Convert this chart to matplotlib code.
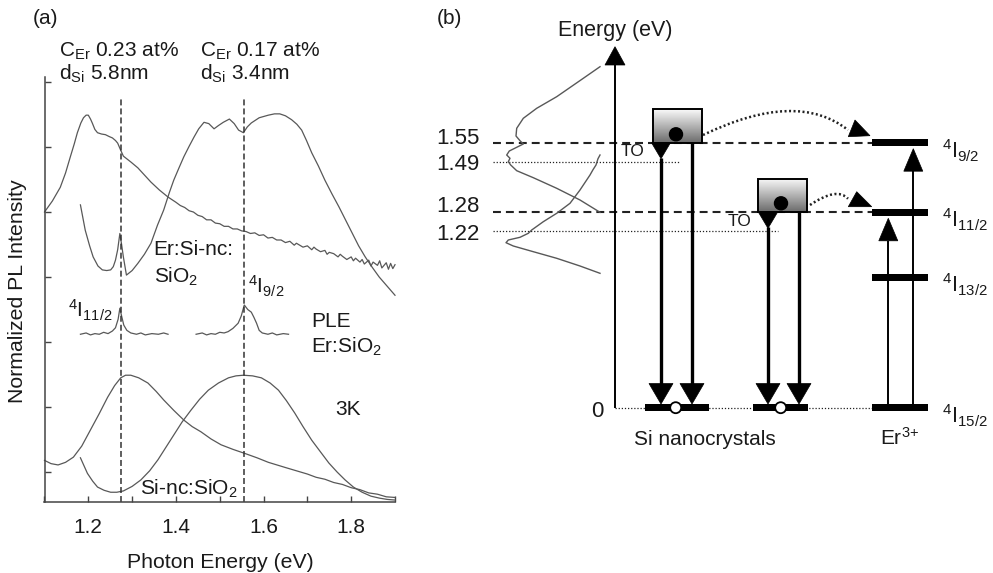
import numpy as np
import matplotlib
matplotlib.use("Agg")
import matplotlib.pyplot as plt
from matplotlib.patches import Polygon, Circle, Rectangle, PathPatch
from matplotlib.path import Path

plt.rcParams['font.family'] = ['Liberation Sans', 'DejaVu Sans']
plt.rcParams['mathtext.fontset'] = 'custom'
plt.rcParams['mathtext.rm'] = 'Liberation Sans'
plt.rcParams['mathtext.it'] = 'Liberation Sans:italic'
plt.rcParams['mathtext.bf'] = 'Liberation Sans:bold'

# ---------------------------------------------------------------- data (a)
# Er:Si-nc:SiO2, C_Er 0.23 at%, d_Si 5.8 nm (PL, 3K)
ER58_E = [1.100, 1.118, 1.136, 1.148, 1.159, 1.168, 1.175, 1.183, 1.189, 1.195,
          1.200, 1.205, 1.209, 1.215, 1.221, 1.230, 1.239, 1.248, 1.255, 1.262,
          1.267, 1.274, 1.280, 1.297, 1.313, 1.328, 1.343, 1.362, 1.382,
          1.40, 1.41, 1.42, 1.43, 1.44, 1.45, 1.46, 1.47, 1.48, 1.49, 1.50,
          1.51, 1.52, 1.53, 1.54, 1.55, 1.56, 1.57, 1.58, 1.59, 1.60, 1.61,
          1.62, 1.63, 1.64, 1.65, 1.66, 1.67, 1.675, 1.68, 1.69, 1.70, 1.71,
          1.715, 1.72, 1.73, 1.74, 1.745, 1.75, 1.76, 1.77, 1.775, 1.78, 1.79,
          1.80, 1.805, 1.81, 1.82, 1.825, 1.83, 1.84, 1.845, 1.85, 1.86, 1.865,
          1.87, 1.88, 1.885, 1.89, 1.895, 1.90]
ER58_I = [4.00, 4.17, 4.38, 4.60, 4.85, 5.05, 5.22, 5.37, 5.45, 5.49,
          5.49, 5.43, 5.37, 5.27, 5.22, 5.20, 5.19, 5.16, 5.14, 5.10,
          5.06, 4.95, 4.86, 4.77, 4.68, 4.57, 4.46, 4.34, 4.23,
          4.15, 4.10, 4.07, 4.02, 4.00, 3.95, 3.93, 3.88, 3.88, 3.83, 3.82,
          3.78, 3.78, 3.74, 3.74, 3.71, 3.70, 3.67, 3.68, 3.64, 3.65, 3.60,
          3.61, 3.57, 3.57, 3.53, 3.55, 3.49, 3.52, 3.50, 3.46, 3.48, 3.42,
          3.46, 3.43, 3.39, 3.41, 3.35, 3.38, 3.36, 3.31, 3.35, 3.32, 3.27,
          3.31, 3.25, 3.29, 3.23, 3.27, 3.20, 3.26, 3.17, 3.23, 3.18, 3.25,
          3.14, 3.22, 3.12, 3.21, 3.13, 3.19]

# Er:Si-nc:SiO2, C_Er 0.17 at%, d_Si 3.4 nm (PL, 3K)
ER34_E = [1.182, 1.193, 1.203, 1.211, 1.222, 1.232, 1.242, 1.251, 1.257, 1.262,
          1.267, 1.272, 1.276, 1.280, 1.287, 1.300, 1.313, 1.328, 1.343, 1.358,
          1.372, 1.385, 1.395, 1.407, 1.418, 1.430, 1.441, 1.452, 1.464, 1.475,
          1.487, 1.497, 1.508, 1.522, 1.533, 1.543, 1.554, 1.563, 1.572, 1.590,
          1.611, 1.625, 1.637, 1.650, 1.664, 1.676, 1.687, 1.698, 1.710, 1.725,
          1.740, 1.756, 1.772, 1.787, 1.802, 1.817, 1.832, 1.848, 1.864, 1.882,
          1.900]
ER34_I = [4.11, 3.72, 3.48, 3.31, 3.17, 3.11, 3.10, 3.11, 3.16, 3.26,
          3.42, 3.67, 3.50, 3.31, 3.03, 3.10, 3.21, 3.35, 3.52, 3.80,
          4.03, 4.30, 4.49, 4.68, 4.85, 5.01, 5.15, 5.28, 5.38, 5.36,
          5.28, 5.33, 5.38, 5.43, 5.36, 5.26, 5.22, 5.31, 5.37, 5.45,
          5.49, 5.51, 5.51, 5.48, 5.42, 5.35, 5.26, 5.10, 4.91, 4.71,
          4.49, 4.28, 4.08, 3.88, 3.68, 3.48, 3.31, 3.15, 3.00, 2.86,
          2.72]

# PLE of Er:SiO2 around the 4I11/2 and 4I9/2 absorptions
PLE1_E = [1.182, 1.195, 1.205, 1.215, 1.225, 1.235, 1.245, 1.255, 1.262, 1.268,
          1.272, 1.276, 1.281, 1.288, 1.297, 1.310, 1.320, 1.330, 1.345, 1.360,
          1.372, 1.382]
PLE1_I = [2.12, 2.14, 2.11, 2.13, 2.12, 2.15, 2.13, 2.17, 2.22, 2.35,
          2.52, 2.40, 2.26, 2.18, 2.14, 2.12, 2.14, 2.11, 2.13, 2.12,
          2.14, 2.12]
PLE2_E = [1.446, 1.460, 1.470, 1.480, 1.490, 1.500, 1.510, 1.519, 1.530, 1.542,
          1.549, 1.556, 1.564, 1.572, 1.578, 1.584, 1.590, 1.597, 1.610, 1.620,
          1.630, 1.645, 1.657]
PLE2_I = [2.12, 2.14, 2.11, 2.13, 2.12, 2.15, 2.14, 2.16, 2.21, 2.29,
          2.40, 2.57, 2.50, 2.46, 2.38, 2.29, 2.18, 2.14, 2.12, 2.14,
          2.11, 2.13, 2.12]

# Si-nc:SiO2 reference samples (PL, 3K)
SINC58_E = [1.100, 1.115, 1.131, 1.148, 1.166, 1.185, 1.205, 1.225, 1.244, 1.260,
            1.274, 1.285, 1.297, 1.315, 1.336, 1.355, 1.372, 1.395, 1.418, 1.437,
            1.457, 1.480, 1.503, 1.530, 1.556, 1.585, 1.611, 1.650, 1.680, 1.70,
            1.72, 1.74, 1.76, 1.78, 1.80, 1.82, 1.84, 1.86, 1.88, 1.90]
SINC58_I = [0.18, 0.13, 0.11, 0.15, 0.23, 0.40, 0.65, 0.90, 1.15, 1.33,
            1.45, 1.49, 1.49, 1.45, 1.37, 1.24, 1.11, 0.95, 0.80, 0.70,
            0.62, 0.51, 0.42, 0.35, 0.29, 0.22, 0.15, 0.07, 0.01, -0.03,
            -0.08, -0.11, -0.16, -0.19, -0.24, -0.27, -0.32, -0.34, -0.38, -0.39]
SINC34_E = [1.182, 1.190, 1.198, 1.210, 1.221, 1.236, 1.251, 1.265, 1.280, 1.300,
            1.320, 1.340, 1.359, 1.377, 1.395, 1.414, 1.434, 1.454, 1.474, 1.497,
            1.520, 1.537, 1.554, 1.575, 1.595, 1.615, 1.634, 1.652, 1.671, 1.690,
            1.710, 1.730, 1.749, 1.768, 1.786, 1.805, 1.825, 1.845, 1.864, 1.882,
            1.900]
SINC34_I = [0.22, 0.10, -0.02, -0.14, -0.23, -0.28, -0.31, -0.31, -0.29, -0.22,
            -0.12, 0.02, 0.19, 0.38, 0.57, 0.77, 0.95, 1.12, 1.26, 1.37,
            1.45, 1.48, 1.49, 1.48, 1.45, 1.37, 1.26, 1.10, 0.91, 0.70,
            0.49, 0.31, 0.14, 0.00, -0.12, -0.23, -0.31, -0.37, -0.40, -0.42,
            -0.43]

# Er3+ transition energies marked by the dashed lines (eV)
ER_TRANSITIONS = [1.275, 1.555]

XTICKS = [1.1, 1.2, 1.3, 1.4, 1.5, 1.6, 1.7, 1.8, 1.9]
XTICK_LABELS = ['', '1.2', '', '1.4', '', '1.6', '', '1.8', '']
YTICKS = [0, 1, 2, 3, 4, 5, 6]

# ---------------------------------------------------------------- data (b)
# schematic heights of the levels in the energy diagram (ground = 0)
SI_LEVEL_LABELS = ['1.55', '1.49', '1.28', '1.22']
SI_LEVEL_H = [265.0, 246.0, 195.4, 176.7]
ER_TERMS = [r'$^{4}$I$_{9/2}$', r'$^{4}$I$_{11/2}$', r'$^{4}$I$_{13/2}$', r'$^{4}$I$_{15/2}$']
ER_LEVEL_H = [265.0, 195.4, 130.4, 0.0]

# PL spectra drawn sideways along the energy axis (intensity, height)
SIDE1_X = [-15, -31.7, -58.3, -78.3, -91.7, -98.3, -99, -95, -91.7, -98.3,
           -105.7, -108.3, -105, -106.7, -104.3, -98.3, -81.7, -58.3, -35, -15]
SIDE1_Y = [341, 329.4, 311, 299.4, 289.4, 279.4, 271.7, 267, 263.7, 260.4,
           256.7, 252.7, 249.4, 246, 242.7, 237, 230, 219.4, 207.7, 195.4]
SIDE2_X = [-15, -17, -19, -22, -25, -35, -45, -58.3, -71.7, -83.3, -86.7, -95,
           -106.7, -109, -101.7, -81.7, -58.3, -35, -15]
SIDE2_Y = [252.7, 249, 242.7, 238, 232.7, 217.7, 204.4, 194.4, 186, 177.7, 174.4,
           170.4, 167.7, 165, 161.7, 156, 149.4, 141.7, 134.4]

W, H = 993, 573
fig = plt.figure(figsize=(W / 100, H / 100), dpi=100)

CURVE = '#585858'
INK = '#1a1a1a'

# ================================================================ panel (a)
ax = fig.add_axes([44.5 / W, (H - 502) / H, (395 - 44.5) / W, (502 - 76.8) / H])
ax.set_xlim(1.1, 1.9)
ax.set_ylim(-0.46, 6.08)
for side in ('top', 'right'):
    ax.spines[side].set_visible(False)
for side in ('left', 'bottom'):
    ax.spines[side].set_color('#444444')
    ax.spines[side].set_linewidth(1.1)
ax.set_xticks(XTICKS)
ax.set_xticklabels(XTICK_LABELS)
ax.set_yticks(YTICKS)
ax.set_yticklabels([])
ax.tick_params(direction='in', length=4, width=1, colors='#444444',
               labelcolor=INK, labelsize=15, pad=11.5)
ax.patch.set_alpha(0)

for e, i in [(ER58_E, ER58_I), (ER34_E, ER34_I), (PLE1_E, PLE1_I),
             (PLE2_E, PLE2_I), (SINC58_E, SINC58_I), (SINC34_E, SINC34_I)]:
    ax.plot(e, i, color=CURVE, lw=0.9, clip_on=False)

for e in ER_TRANSITIONS:
    ax.plot([e, e], [-0.46, 5.77], color='#333333', lw=1.1,
            linestyle=(0, (3.9, 2.0)))

txt = dict(fontsize=15, color=INK, clip_on=False)
ax.text(1.133, 6.385, r'C$_{\mathrm{Er}}$ 0.23 at%', va='baseline', **txt)
ax.text(1.133, 6.03, r'd$_{\mathrm{Si}}$ 5.8nm', va='baseline', **txt)
ax.text(1.455, 6.385, r'C$_{\mathrm{Er}}$ 0.17 at%', va='baseline', **txt)
ax.text(1.455, 6.03, r'd$_{\mathrm{Si}}$ 3.4nm', va='baseline', **txt)
ax.text(1.349, 3.34, 'Er:Si-nc:', va='baseline', **txt)
ax.text(1.349, 2.92, r'SiO$_2$', va='baseline', **txt)
ax.text(1.565, 2.75, r'$^{4}$I$_{9/2}$', va='baseline', **txt)
ax.text(1.154, 2.385, r'$^{4}$I$_{11/2}$', va='baseline', **txt)
ax.text(1.708, 2.23, 'PLE', va='baseline', **txt)
ax.text(1.708, 1.83, r'Er:SiO$_2$', va='baseline', **txt)
ax.text(1.763, 0.877, '3K', va='baseline', **txt)
ax.text(1.319, -0.354, r'Si-nc:SiO$_2$', va='baseline', **txt)

fig.text(220 / W, (H - 568) / H, 'Photon Energy (eV)', ha='center',
         va='baseline', fontsize=15.3, color=INK)
fig.text(18 / W, (H - 291) / H, 'Normalized PL Intensity', rotation=90,
         ha='center', va='center', fontsize=15.3, color=INK)
fig.text(45 / W, (H - 19) / H, '(a)', ha='center', va='center',
         fontsize=15, color=INK)

# ================================================================ panel (b)
bx = fig.add_axes([420 / W, 0, (W - 420) / W, 1])
bx.set_axis_off()

# side spectra
bx.plot(SIDE1_X, SIDE1_Y, color=CURVE, lw=1.0)
bx.plot(SIDE2_X, SIDE2_Y, color=CURVE, lw=1.0)

# energy axis with arrow
bx.plot([0, 0], [0, 343], color='black', lw=1.4, solid_capstyle='butt')
bx.add_patch(Polygon([[-10, 342.7], [10, 342.7], [0, 361]], closed=True,
                     fc='black', ec='black', lw=0.5))
bx.text(0, 371.7, 'Energy (eV)', ha='center', va='baseline', fontsize=15.5,
        color=INK)
bx.text(-178, 388.7, '(b)', ha='left', va='center', fontsize=15, color=INK)

# level lines (dashed: emission maxima, dotted: minus TO phonon)
dash = (0, (3.8, 2.4))
bx.plot([-122, 256.7], [SI_LEVEL_H[0]] * 2, color='#222222', lw=1.5,
        linestyle=dash, zorder=1)
bx.plot([-122, 256.7], [SI_LEVEL_H[2]] * 2, color='#222222', lw=1.5,
        linestyle=dash, zorder=1)
bx.plot([-122, 65], [SI_LEVEL_H[1]] * 2, color='#222222', lw=0.9,
        linestyle=(0, (1, 1.5)), zorder=1)
bx.plot([-122, 163], [SI_LEVEL_H[3]] * 2, color='#222222', lw=0.9,
        linestyle=(0, (1, 1.5)), zorder=1)
bx.plot([0, 256.7], [0, 0], color='#222222', lw=0.9,
        linestyle=(0, (1, 1.5)), zorder=1)

label_offsets = [4.7, -3.3, 5.3, -4.0]
for lab, h, off in zip(SI_LEVEL_LABELS, SI_LEVEL_H, label_offsets):
    bx.text(-135, h + off, lab, ha='right', va='center', fontsize=16,
            color=INK)
bx.text(-12, -4, '0', ha='right', va='center', fontsize=16, color=INK)

# nanocrystal columns: box (excited state), TO line, ground bar
nc_cols = [dict(box=(38, 87), top=298.7, lvl=SI_LEVEL_H[0], lines=(46, 77),
                dot=(61, 273.4), gnd=(30, 94.3), hole=60.7, to=(17.5, 255.7)),
           dict(box=(142.7, 192.3), top=228.7, lvl=SI_LEVEL_H[2], lines=(153, 184),
                dot=(166, 204.4), gnd=(137.7, 193.3), hole=165.7, to=(125, 186))]
grad = np.linspace(0.42, 0.98, 80).reshape(-1, 1)
for c in nc_cols:
    x0, x1 = c['box']
    bx.imshow(grad, extent=(x0, x1, c['lvl'], c['top']), origin='lower',
              cmap='gray', vmin=0, vmax=1, aspect='auto', zorder=2,
              interpolation='bilinear')
    bx.add_patch(Rectangle((x0, c['lvl']), x1 - x0, c['top'] - c['lvl'],
                           fill=False, ec='black', lw=1.4, zorder=3))
    bx.add_patch(Circle(c['dot'], 6.5, fc='black', ec='black', zorder=4))
    la, lb = c['lines']
    # TO phonon-assisted transition starts below the level
    bx.add_patch(Polygon([[la - 9.5, c['lvl']], [la + 9.5, c['lvl']],
                          [la, c['lvl'] - 16]], closed=True, fc='black',
                         ec='black', lw=0.5, zorder=4))
    bx.plot([la, la], [24, c['lvl'] - 15], color='black', lw=2.4,
            solid_capstyle='butt', zorder=3)
    bx.plot([lb, lb], [24, c['lvl']], color='black', lw=2.4,
            solid_capstyle='butt', zorder=3)
    for xl in (la, lb):
        bx.add_patch(Polygon([[xl - 12, 24.2], [xl + 12, 24.2], [xl, 3.7]],
                             closed=True, fc='black', ec='black', lw=0.5,
                             zorder=4))
    g0, g1 = c['gnd']
    bx.add_patch(Rectangle((g0, -3.5), g1 - g0, 7, fc='black', ec='none',
                           zorder=3))
    bx.add_patch(Circle((c['hole'], 0), 5.5, fc='white', ec='black', lw=1.3,
                        zorder=5))
    bx.text(c['to'][0], c['to'][1], 'TO', ha='center', va='center',
            fontsize=12.5, color=INK)

# Er3+ levels
for term, h in zip(ER_TERMS, ER_LEVEL_H):
    bx.add_patch(Rectangle((256.7, h - 3.5), 56.6, 7, fc='black', ec='none',
                           zorder=3))
    bx.text(326.7, h - 15.3, term, ha='left', va='baseline', fontsize=15.5,
            color=INK)

# Er3+ excitation arrows
for xe, h_top in [(273.3, ER_LEVEL_H[1]), (298.3, ER_LEVEL_H[0])]:
    base = h_top - 28.5
    bx.plot([xe, xe], [3, base], color='black', lw=1.4, solid_capstyle='butt',
            zorder=2)
    bx.add_patch(Polygon([[xe - 9.5, base], [xe + 9.5, base], [xe, h_top - 6]],
                         closed=True, fc='black', ec='black', lw=0.5, zorder=4))

# energy transfer (dotted curved arrows)
for p0, p1, p2, tri in [((88, 272.7), (182, 318), (233, 277.7),
                         [[233.3, 271], [255, 272], [240, 287.7]]),
                        ((195, 202.7), (222, 221), (233, 209),
                         [[233.3, 201], [256.7, 201], [241.7, 216]])]:
    path = Path([p0, p1, p2], [Path.MOVETO, Path.CURVE3, Path.CURVE3])
    bx.add_patch(PathPatch(path, fill=False, ec='#222222', lw=1.8,
                           linestyle=(0, (0.8, 1.0)), zorder=3))
    bx.add_patch(Polygon(tri, closed=True, fc='black', ec='black', lw=0.5,
                         zorder=4))

bx.text(90, -37.3, 'Si nanocrystals', ha='center', va='baseline', fontsize=15,
        color=INK)
bx.text(265, -37.3, r'Er$^{3\!+}$', ha='left', va='baseline', fontsize=15,
        color=INK)

bx.set_xlim(-195, 378)
bx.set_ylim(407.7 - 573, 407.7)

fig.savefig('out.png', dpi=100)
